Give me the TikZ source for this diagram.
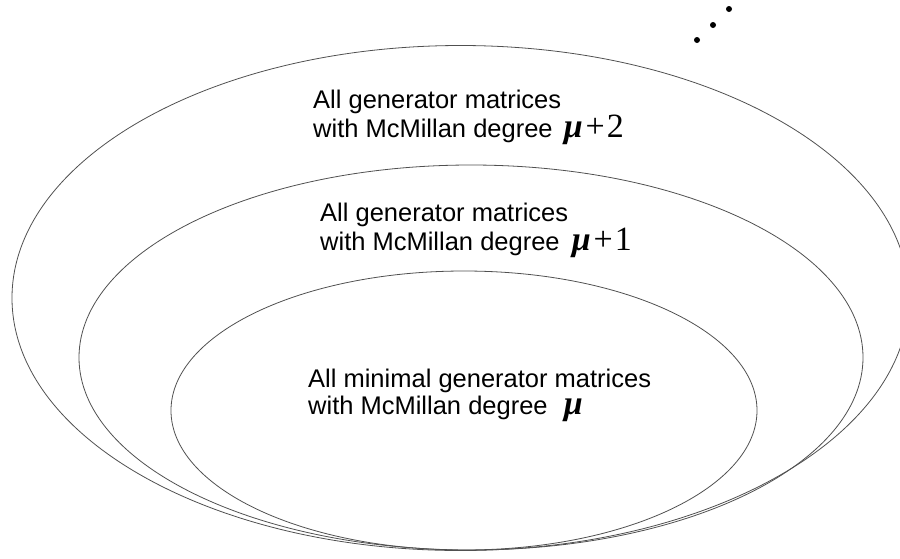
\documentclass[tikz,border=0pt]{standalone}
\usepackage{fontspec}
\setmainfont{Liberation Sans}
\newfontfamily\greekserif{Liberation Serif}
\usepackage{xcolor}
\definecolor{setgray}{RGB}{80,80,80}
\usepackage{tikz}
\usetikzlibrary{positioning}

% degree symbols set larger, in a serif
\newcommand{\mudeg}{{\greekserif\fontsize{34}{34}\selectfont\bfseries\itshape μ}}
\newcommand{\mudegplus}[1]{\mudeg{\greekserif\fontsize{34}{34}\selectfont\hspace{3pt}+\hspace{2pt}#1}}

\begin{document}
\begin{tikzpicture}[x=1pt, y=-1pt,
    setline/.style={draw=setgray, line width=0.8pt},
    settext/.style={anchor=base west, inner sep=0pt, align=left,
      font=\fontsize{25.5}{27}\selectfont}]

\useasboundingbox (0,0) rectangle (900,558);

% Nested sets
\draw[setline] (460.5,298) ellipse [x radius=448.5, y radius=252.5];
\draw[setline] (471,357.5) ellipse [x radius=392, y radius=192.5];
\draw[setline] (464,410.5) ellipse [x radius=293, y radius=139.5];

% Set descriptions (base = last line)
\node[settext] (deg2) at (313,137) {All generator matrices\\with McMillan degree \hspace{4pt}\mudegplus{2}};
\node[settext] (deg1) at (320,250) {All generator matrices\\with McMillan degree \hspace{5pt}\mudegplus{1}};
\node[settext] (deg0) at (308,414) {All minimal generator matrices\\with McMillan degree \hspace{9pt}\mudeg};

% Continuation dots
\foreach \px/\py in {697/40, 713/25, 729/9}
  \fill (\px,\py) circle [radius=3];

\end{tikzpicture}
\end{document}
